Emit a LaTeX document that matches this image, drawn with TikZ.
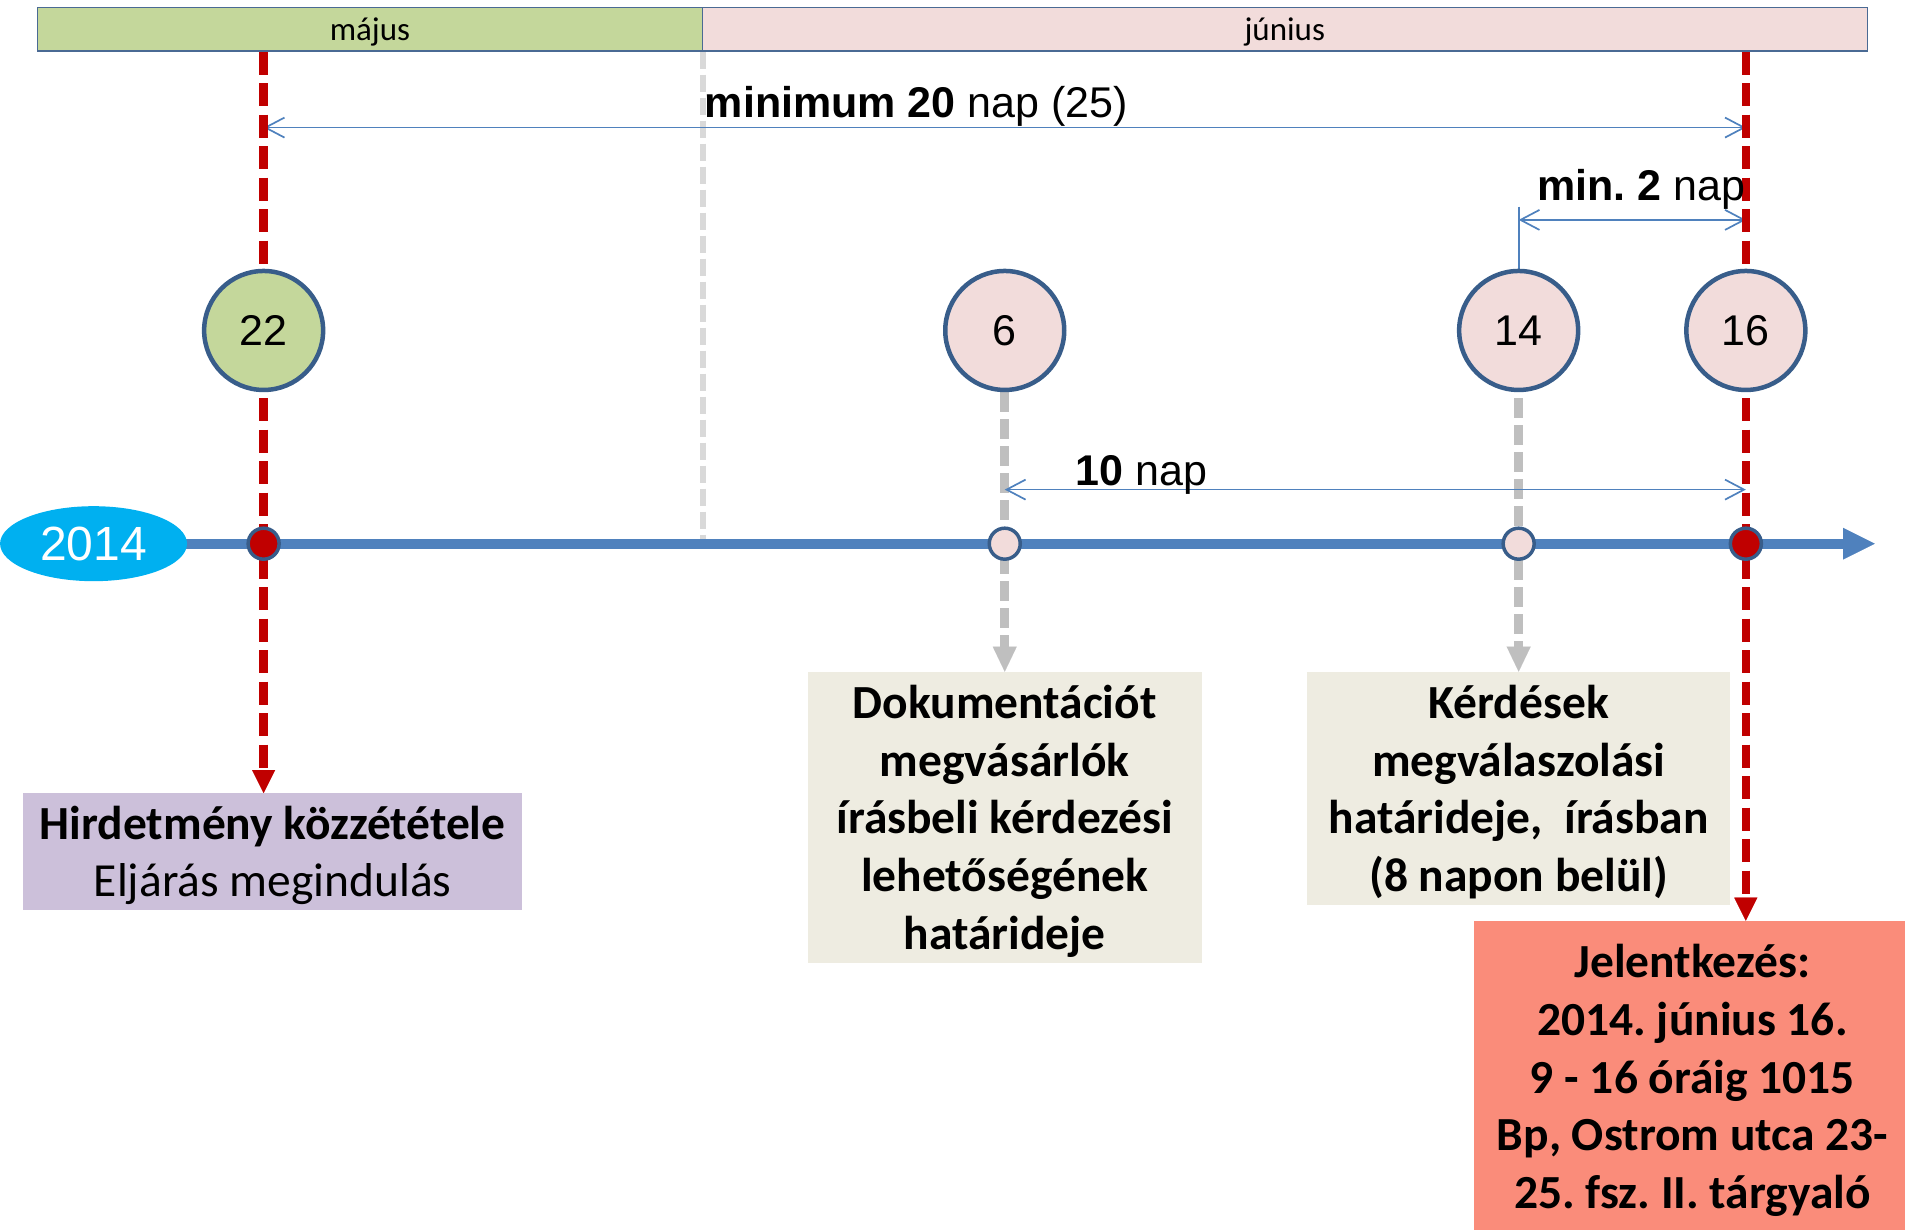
\documentclass[tikz,border=0pt]{standalone}
\usepackage{fontspec}
\setmainfont{Carlito}
\newfontfamily\arialf{Liberation Sans}
\usetikzlibrary{arrows.meta,shapes.geometric}
\pgfdeclarelayer{bg}
\pgfsetlayers{bg,main}
\frenchspacing
\definecolor{maygreen}{HTML}{C4D79B}
\definecolor{junpink}{HTML}{F2DCDB}
\definecolor{barborder}{HTML}{4A6A94}
\definecolor{circborder}{HTML}{385D8A}
\definecolor{tlblue}{HTML}{4F81BD}
\definecolor{darkred}{HTML}{C00000}
\definecolor{yearblue}{HTML}{00B0F0}
\definecolor{lilac}{HTML}{CCC0DA}
\definecolor{beige}{HTML}{EEECE1}
\definecolor{salmon}{HTML}{FA8C7A}
\definecolor{grayone}{HTML}{BFBFBF}
\definecolor{graytwo}{HTML}{D9D9D9}
\tikzset{
  monthbar/.style={draw=barborder, line width=1.2pt, minimum height=43.7pt, inner sep=0pt,
    text height=22pt, text depth=0pt, font=\fontsize{33}{38}\selectfont},
  daycirc/.style={circle, draw=circborder, line width=4.5pt, minimum size=119pt, inner sep=0pt,
    font=\arialf\fontsize{43}{50}\selectfont},
  daydot/.style={circle, draw=circborder, line width=3.5pt, minimum size=31pt, inner sep=0pt},
  boxfill/.style={inner sep=0pt},
  boxtext/.style={inner sep=0pt, align=center, font=\bfseries\fontsize{47.5}{57.7}\selectfont},
  lbl/.style={inner sep=0pt, font=\arialf\fontsize{43}{50}\selectfont},
  reddash/.style={draw=darkred, line width=8.5pt, dash pattern=on 23pt off 8.5pt,
    -{Triangle[length=23pt,width=23pt,line width=0.01pt]}},
  graydash/.style={draw=grayone, line width=9pt, dash pattern=on 20pt off 7pt,
    -{Triangle[length=25pt,width=24pt,line width=0.01pt]}},
  lgdash/.style={draw=graytwo, line width=5.5pt, dash pattern=on 17pt off 6pt},
  dimarrow/.style={draw=tlblue, line width=1.7pt,
    {Straight Barb[length=19pt,width=20pt]}-{Straight Barb[length=19pt,width=20pt]}},
  dimline/.style={draw=tlblue, line width=1.7pt},
}
\begin{document}
\begin{tikzpicture}[x=1.215pt,y=-1.215pt]
\useasboundingbox (0,0) rectangle (1568,1011.6);

% month bars
\node[monthbar, fill=maygreen, minimum width=664.6pt] (mayb) at (304.5,24) {május};
\node[monthbar, fill=junpink, minimum width=1165.2pt] (junb) at (1057.5,24) {június};

% day circles
\node[daycirc, fill=maygreen] (c22) at (217,272) {22};
\node[daycirc, fill=junpink] (c6) at (827,272) {6};
\node[daycirc, fill=junpink] (c14) at (1250,272) {14};
\node[daycirc, fill=junpink] (c16) at (1437,272) {16};

% year ellipse and timeline end
\node[ellipse, fill=yearblue, minimum width=187pt, minimum height=75pt, inner sep=0pt,
  text=white, font=\arialf\fontsize{48}{54}\selectfont] (y2014) at (77,447.5) {2014};
\coordinate (tlend) at (1543,447.5);

% dots on the timeline
\node[daydot, fill=darkred] (d22) at (217,447.5) {};
\node[daydot, fill=junpink] (d6) at (827,447.5) {};
\node[daydot, fill=junpink] (d14) at (1250,447.5) {};
\node[daydot, fill=darkred] (d16) at (1437,447.5) {};

% boxes
\node[boxfill, fill=lilac, minimum width=499pt, minimum height=116.6pt] (b1) at (224.5,701) {};
\node[boxfill, fill=beige, minimum width=393.7pt, minimum height=291.6pt] (b2) at (827,673) {};
\node[boxfill, fill=beige, minimum width=422.8pt, minimum height=233.3pt] (b3) at (1250,649) {};
\node[boxfill, fill=salmon, minimum width=437.4pt, minimum height=311pt] (b4) at (1393,886) {};
\node[boxtext] (t1) at ([yshift=-3.6pt]b1.center)
  {Hirdetmény közzététele\\{\mdseries Eljárás megindulás}};
\node[boxtext] (t2) at ([yshift=-3.6pt]b2.center)
  {Dokumentációt\\megvásárlók\\írásbeli kérdezési\\lehetőségének\\határideje};
\node[boxtext] (t3) at ([yshift=-3.6pt]b3.center)
  {Kérdések\\megválaszolási\\határideje,~ írásban\\(8 napon belül)};
\node[boxtext] (t4) at ([yshift=-4pt]b4.center)
  {Jelentkezés:\\2014. június 16.\\9 - 16 óráig 1015\\Bp, Ostrom utca 23-\\25. fsz. II. tárgyaló};

% labels
\node[lbl, anchor=base west] (l20) at (580,97) {\bfseries minimum 20 \mdseries nap (25)};
\node[lbl, anchor=base west] (l2) at (1265,165) {\bfseries min. 2 \mdseries nap};
\node[lbl, anchor=base west] (l10) at (885,400) {\bfseries 10 \mdseries nap};

\begin{pgfonlayer}{bg}
  \draw[lgdash] (mayb.south east) -- (mayb.south east |- tlend);
  \draw[graydash] (c6.south) -- (c6 |- b2.north);
  \draw[graydash] ([yshift=-6pt]c14.south) -- (c14 |- b3.north);
  \draw[dimarrow] (c22 |- 0,105) -- (c16 |- 0,105);
  \draw[dimarrow] (c14 |- 0,181) -- (c16 |- 0,181);
  \draw[dimline] (c14 |- 0,170) -- (c14.north);
  \draw[dimarrow] (c6 |- 0,403) -- (c16 |- 0,403);
  \draw[reddash] (c22 |- mayb.south) -- (c22 |- b1.north);
  \draw[reddash] (c16 |- junb.south) -- (c16 |- b4.north);
  \draw[draw=tlblue, line width=9.7pt, -{Triangle[length=31.6pt,width=31.6pt,line width=0.01pt]}]
    (y2014.center) -- (tlend);
\end{pgfonlayer}
\end{tikzpicture}
\end{document}
